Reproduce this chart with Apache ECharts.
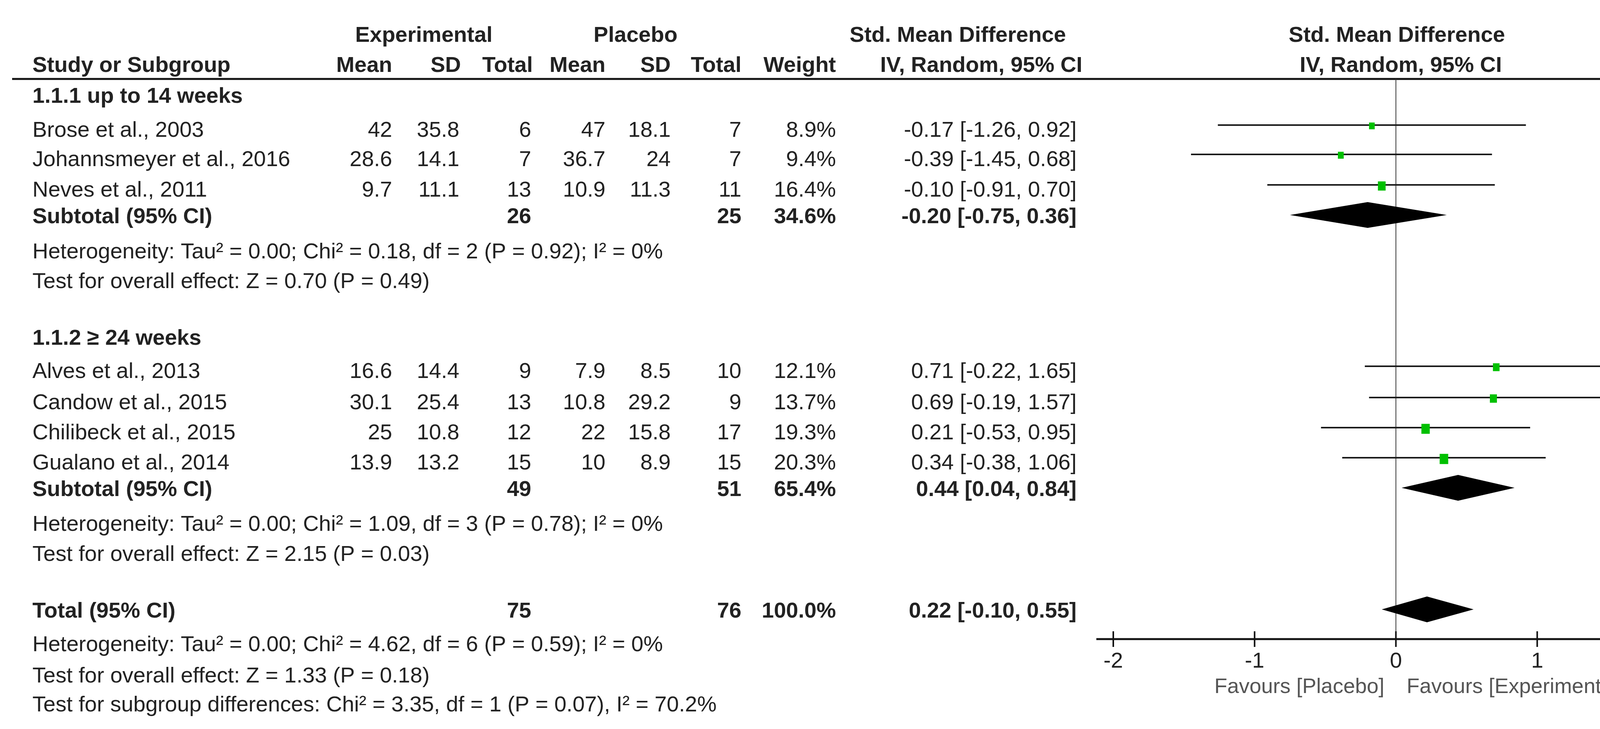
<!DOCTYPE html>
<html><head><meta charset="utf-8">
<script src="https://cdn.jsdelivr.net/npm/echarts@6/dist/echarts.min.js"></script>
<style>html,body{margin:0;padding:0;background:#fff}#c{width:4450px;height:1865px}</style>
</head><body><div id="c"></div>
<script>
// ---- data ----
const studies = ['Brose et al., 2003','Johannsmeyer et al., 2016','Neves et al., 2011','Alves et al., 2013','Candow et al., 2015','Chilibeck et al., 2015','Gualano et al., 2014'];
const expMean = ['42','28.6','9.7','16.6','30.1','25','13.9'];
const expSD   = ['35.8','14.1','11.1','14.4','25.4','10.8','13.2'];
const expN    = ['6','7','13','9','13','12','15'];
const plaMean = ['47','36.7','10.9','7.9','10.8','22','10'];
const plaSD   = ['18.1','24','11.3','8.5','29.2','15.8','8.9'];
const plaN    = ['7','7','11','10','9','17','15'];
const weight  = [8.9,9.4,16.4,12.1,13.7,19.3,20.3];
const smd     = [-0.17,-0.39,-0.10,0.71,0.69,0.21,0.34];
const lo      = [-1.26,-1.45,-0.91,-0.22,-0.19,-0.53,-0.38];
const hi      = [0.92,0.68,0.70,1.65,1.57,0.95,1.06];
const subLabels = ['Subtotal (95% CI)','Subtotal (95% CI)','Total (95% CI)'];
const subExpN = ['26','49','75'];
const subPlaN = ['25','51','76'];
const subWeight = ['34.6%','65.4%','100.0%'];
const subSmd = [-0.20,0.44,0.22];
const subLo  = [-0.75,0.04,-0.10];
const subHi  = [0.36,0.84,0.55];
const groupTitles = ['1.1.1 up to 14 weeks','1.1.2 \u2265 24 weeks'];
const noteLines = [
 'Heterogeneity: Tau\u00b2 = 0.00; Chi\u00b2 = 0.18, df = 2 (P = 0.92); I\u00b2 = 0%',
 'Test for overall effect: Z = 0.70 (P = 0.49)',
 'Heterogeneity: Tau\u00b2 = 0.00; Chi\u00b2 = 1.09, df = 3 (P = 0.78); I\u00b2 = 0%',
 'Test for overall effect: Z = 2.15 (P = 0.03)',
 'Heterogeneity: Tau\u00b2 = 0.00; Chi\u00b2 = 4.62, df = 6 (P = 0.59); I\u00b2 = 0%',
 'Test for overall effect: Z = 1.33 (P = 0.18)',
 'Test for subgroup differences: Chi\u00b2 = 3.35, df = 1 (P = 0.07), I\u00b2 = 70.2%'
];
const xTicks = [-2,-1,0,1,2];

// ---- layout ----
const studyY = [335,410,488,952,1032,1109,1186];
const subY = [556,1254,1565];
const groupY = [248,867];
const noteY = [646,722,1343,1420,1651,1731,1805];
const colRight = [1004,1176,1360,1550,1717,1898,2140];
const ciRight = 2756;
const FS = 56, FONT = 'Liberation Sans, Arial, sans-serif', TC = '#222';
const AXY = 1635;

function fmt(v){return v.toFixed(2);}
function ciText(m,l,h){return fmt(m)+' ['+fmt(l)+', '+fmt(h)+']';}
const g = [];
function txt(x,y,s,align,bold){
  g.push({type:'text',x:x,y:y,style:{text:s,fill:TC,font:(bold?'bold ':'')+FS+'px '+FONT,textAlign:align||'left',textVerticalAlign:'middle'}});
}
txt(1085,92,'Experimental','center',true);
txt(1627,92,'Placebo','center',true);
txt(2452,92,'Std. Mean Difference','center',true);
txt(3576,92,'Std. Mean Difference','center',true);
txt(83,169,'Study or Subgroup','left',true);
['Mean','SD','Total','Mean','SD','Total','Weight'].forEach((h,i)=>txt(colRight[i]+(i===1||i===2?4:0),169,h,'right',true));
txt(2512,169,'IV, Random, 95% CI','center',true);
txt(3586,169,'IV, Random, 95% CI','center',true);
g.push({type:'line',shape:{x1:31,y1:202,x2:4393,y2:202},style:{stroke:'#111',lineWidth:5}});
groupTitles.forEach((t,i)=>txt(83,groupY[i],t,'left',true));
studies.forEach((s,i)=>{
  const y=studyY[i];
  txt(83,y,s);
  [expMean[i],expSD[i],expN[i],plaMean[i],plaSD[i],plaN[i],weight[i].toFixed(1)+'%'].forEach((v,j)=>txt(colRight[j],y,v,'right'));
  txt(ciRight,y,ciText(smd[i],lo[i],hi[i]),'right');
});
subLabels.forEach((s,i)=>{
  const y=subY[i];
  txt(83,y,s,'left',true);
  txt(colRight[2],y,subExpN[i],'right',true);
  txt(colRight[5],y,subPlaN[i],'right',true);
  txt(colRight[6],y,subWeight[i],'right',true);
  txt(ciRight,y,ciText(subSmd[i],subLo[i],subHi[i]),'right',true);
});
noteLines.forEach((t,i)=>txt(83,noteY[i],t));
g.push({type:'text',x:3544,y:1758,style:{text:'Favours [Placebo]',fill:'#555',font:'54px '+FONT,textAlign:'right',textVerticalAlign:'middle'}});
g.push({type:'text',x:3601,y:1758,style:{text:'Favours [Experimental]',fill:'#555',font:'54px '+FONT,textAlign:'left',textVerticalAlign:'middle'}});

const studyData = studies.map((s,i)=>[smd[i],lo[i],hi[i],studyY[i]-15,weight[i]]);
const subData = subSmd.map((m,i)=>[m,subLo[i],subHi[i],subY[i]-6]);

const chart = echarts.init(document.getElementById('c'));
chart.setOption({
  animation:false,
  backgroundColor:'#fff',
  grid:{left:2850,right:153,top:202,bottom:1865-AXY},
  xAxis:{type:'value',min:-2,max:2,interval:1,
    axisLine:{show:false},splitLine:{show:false},axisTick:{show:false},
    axisLabel:{fontSize:56,color:'#222',fontFamily:FONT,margin:30}},
  yAxis:{type:'value',min:202,max:AXY,inverse:true,show:false},
  graphic:g,
  series:[
    {type:'custom',clip:false,data:[[-2.12,2.12]],renderItem:(p,api)=>{
      const a=api.coord([api.value(0),AXY]),b=api.coord([api.value(1),AXY]);
      const z0=api.coord([0,202]),z1=api.coord([0,AXY]);
      const ch=[
        {type:'line',shape:{x1:a[0],y1:a[1],x2:b[0],y2:b[1]},style:{stroke:'#111',lineWidth:5}},
        {type:'line',shape:{x1:z0[0],y1:z0[1],x2:z1[0],y2:z1[1]},style:{stroke:'#333',lineWidth:2}}
      ];
      xTicks.forEach(t=>{const q=api.coord([t,AXY]);ch.push({type:'line',shape:{x1:q[0],y1:q[1]-20,x2:q[0],y2:q[1]+20},style:{stroke:'#111',lineWidth:4}});});
      return {type:'group',children:ch};
    }},
    {type:'custom',clip:false,data:studyData,renderItem:(p,api)=>{
      const c=api.coord([api.value(0),api.value(3)]);
      const l=api.coord([api.value(1),api.value(3)]),h=api.coord([api.value(2),api.value(3)]);
      const s=Math.sqrt(api.value(4))*5.8;
      return {type:'group',children:[
        {type:'line',shape:{x1:l[0],y1:l[1],x2:h[0],y2:h[1]},style:{stroke:'#1a1a1a',lineWidth:4}},
        {type:'rect',shape:{x:c[0]-s*0.42,y:c[1]-s*0.38,width:s*0.84,height:s},style:{fill:'#00c000'}}
      ]};
    }},
    {type:'custom',clip:false,data:subData,renderItem:(p,api)=>{
      const y=api.value(3);
      const c=api.coord([api.value(0),y]),l=api.coord([api.value(1),y]),h=api.coord([api.value(2),y]);
      return {type:'polygon',shape:{points:[[l[0],c[1]],[c[0],c[1]-33],[h[0],c[1]],[c[0],c[1]+33]]},style:{fill:'#000'}};
    }}
  ]
});
</script></body></html>
